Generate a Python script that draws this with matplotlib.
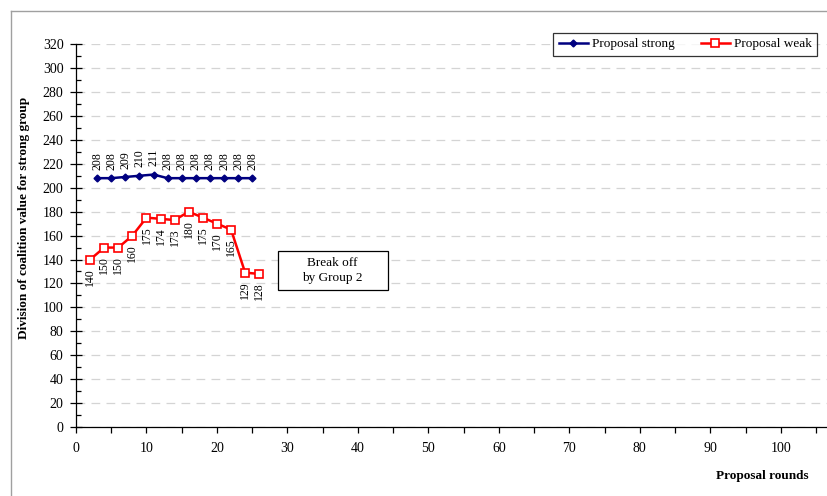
import numpy as np
import matplotlib
matplotlib.use('Agg')
import matplotlib.pyplot as plt
from matplotlib.lines import Line2D
from matplotlib.patches import Rectangle

plt.rcParams['font.family'] = ['Liberation Serif', 'DejaVu Serif']

# data
rounds_strong = [3, 5, 7, 9, 11, 13, 15, 17, 19, 21, 23, 25]
strong = [208, 208, 209, 210, 211, 208, 208, 208, 208, 208, 208, 208]
rounds_weak = [2, 4, 6, 8, 10, 12, 14, 16, 18, 20, 22, 24, 26]
weak = [140, 150, 150, 160, 175, 174, 173, 180, 175, 170, 165, 129, 128]

fig = plt.figure(figsize=(8.28, 4.96), dpi=100)
ax = fig.add_axes([0.0918, 0.139, 0.9082, 0.772])

# grey frame of the chart area (cropped)
fig.add_artist(Line2D([0.0133, 1.0], [0.978, 0.978], color='#a0a0a0', lw=1))
fig.add_artist(Line2D([0.0133, 0.0133], [0.0, 0.978], color='#a0a0a0', lw=1))

ax.plot(rounds_strong, strong, color='#000080', lw=1.8, marker='D', ms=3.5,
        mfc='#000080', mec='#000080', label='Proposal strong', zorder=3)
ax.plot(rounds_weak, weak, color='#ff0000', lw=1.8, marker='s', ms=6,
        mfc='white', mec='#ff0000', mew=1.2, label='Proposal weak', zorder=3)

for x, y in zip(rounds_strong, strong):
    ax.annotate(str(y), (x, y), xytext=(0, 6), textcoords='offset points',
                rotation=90, ha='center', va='bottom', fontsize=8.5)
for x, y in zip(rounds_weak, weak):
    ax.annotate(str(y), (x, y), xytext=(0, -6), textcoords='offset points',
                rotation=90, ha='center', va='top', fontsize=8.5)

# "Break off" note box
ax.add_patch(Rectangle((28.6, 114.5), 15.6, 32.5, fc='white', ec='black',
                       lw=0.9, zorder=4))
ax.text(36.4, 131, 'Break off\nby Group 2', ha='center', va='center', fontsize=9.5,
        linespacing=1.3, zorder=5)

ax.set_xlim(0, 106.7)
ax.set_ylim(0, 320)
ax.set_xticks(np.arange(0, 101, 10))
ax.set_xticks(np.arange(5, 106, 10), minor=True)
ax.set_yticks(np.arange(0, 321, 20))
ax.set_yticks(np.arange(10, 320, 20), minor=True)
ax.tick_params(axis='x', which='both', direction='out', length=4, width=0.9,
               labelsize=10, pad=7)
ax.tick_params(axis='y', which='major', direction='inout', length=8, width=0.9,
               labelsize=10, pad=5)
ax.tick_params(axis='y', which='minor', direction='in', length=3.5, width=0.9)

ax.grid(axis='y', which='major', color='#d4d4d4', lw=0.9, ls=(0, (7, 5)))
ax.set_axisbelow(True)
for s in ['top', 'right']:
    ax.spines[s].set_visible(False)
for s in ['left', 'bottom']:
    ax.spines[s].set_linewidth(0.9)

ax.set_ylabel('Division of coalition value for strong group', fontsize=9.5,
              fontweight='bold')
ax.yaxis.set_label_coords(-0.061, 0.546)
fig.text(0.976, 0.04, 'Proposal rounds', ha='right', va='center', fontsize=9.5,
         fontweight='bold')

leg = ax.legend(loc='upper right', bbox_to_anchor=(0.994, 1.047), ncol=2,
                fontsize=9.5, frameon=True, fancybox=False, edgecolor='black',
                handlelength=2.2, handletextpad=0.3, columnspacing=2.0,
                borderpad=0.4)
leg.get_frame().set_linewidth(0.9)

fig.savefig('out.png', dpi=100)
